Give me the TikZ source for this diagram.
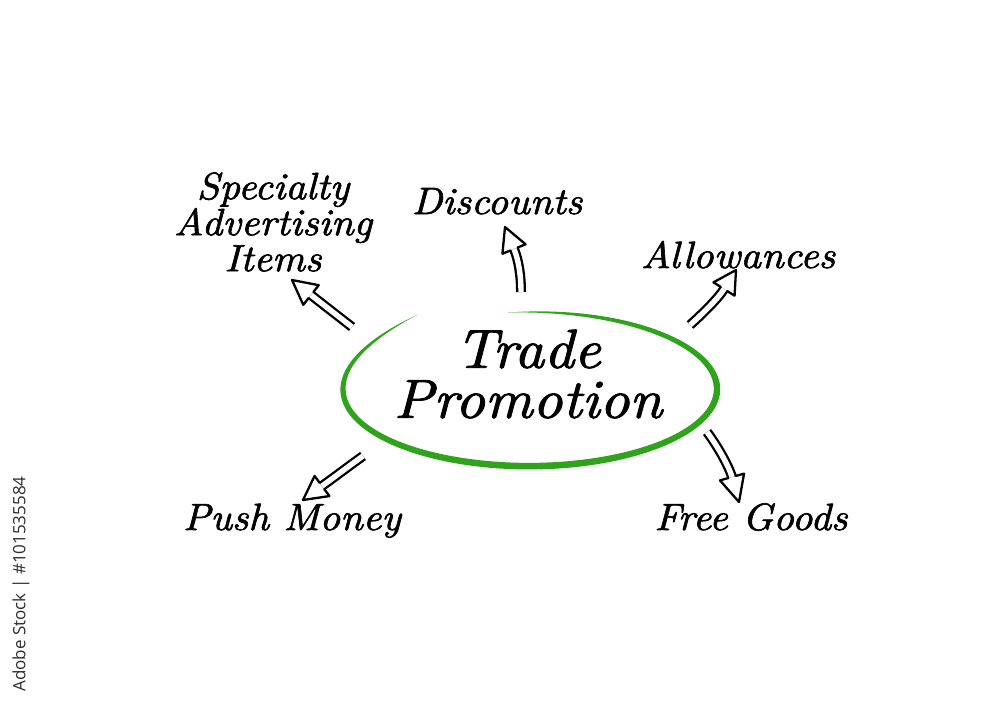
\documentclass[tikz,border=0pt]{standalone}
\usepackage{fontspec}
\newfontfamily\stockfont{Open Sans}
\newfontfamily\hand{lmroman10-italic}[Extension=.otf, FakeBold=1.6, FakeStretch=1.06]
\usetikzlibrary{calc}
\definecolor{ringgreen}{RGB}{48,163,28}
\definecolor{stockgray}{RGB}{45,45,45}
\tikzset{
  lbl/.style={font=\hand\fontsize{38}{36}\selectfont, inner sep=0pt, align=center, text=black},
  titletext/.style={font=\hand\fontsize{55}{50}\selectfont, inner sep=0pt, align=center, text=black},
  shaft/.style={draw=black, double=white, double distance=5.4pt, line width=2.3pt},
  arrowhead/.style={draw=black, line width=2.3pt, line join=round, line cap=round},
  ring/.style={fill=ringgreen, draw=none},
  declare function={uu(\t)=(\t-263)/330; vv(\t)=2*uu(\t)-1;
    thk(\t)=3.3*(1-vv(\t)*vv(\t)*vv(\t)*vv(\t));
    drift(\t)=16*uu(\t)*uu(\t)*uu(\t)*uu(\t)*uu(\t)*uu(\t)*uu(\t)*uu(\t);},
}
% tail, control 1, control 2, head base, tip
\newcommand\hollowarrow[5]{%
  \draw[shaft] (#1) .. controls (#2) and (#3) .. (#4);
  \draw[arrowhead] ($(#4)!3.85pt!90:(#5)$) -- ($(#4)!12.5pt!90:(#5)$) -- (#5)
     -- ($(#4)!12.5pt!-90:(#5)$) -- ($(#4)!3.85pt!-90:(#5)$);}
\begin{document}
\begin{tikzpicture}[x=1pt, y=-1pt]
\useasboundingbox (0,0) rectangle (1000,710);
\fill[white] (0,0) rectangle (1000,710);

% green hand-drawn ring
\fill[ring]
  plot[domain=263:593, samples=180]
    ({530+(187+thk(\x))*cos(\x)}, {389+(77+drift(\x)+thk(\x))*sin(\x)})
  -- plot[domain=593:263, samples=180]
    ({530+(187-thk(\x))*cos(\x)}, {389+(77+drift(\x)-thk(\x))*sin(\x)})
  -- cycle;

% texts
\node[titletext] (trade) at (528,374) {Trade\\Promotion};
\node[lbl] (specialty) at (273,222) {Specialty\\Advertising\\Items};
\node[lbl, anchor=base] (discounts) at (497,214) {Discounts};
\node[lbl, anchor=base] (allowances) at (738,268) {Allowances};
\node[lbl, anchor=base] (pushmoney) at (292,530) {Push Money};
\node[lbl, anchor=base] (freegoods) at (751,530) {Free Goods};
\node[rotate=90, font=\stockfont\fontsize{17}{20}\selectfont, text=stockgray, inner sep=0pt]
  (stock) at (21,584) {Adobe Stock | \#101535584};

% arrow coordinates
\coordinate (sa-tail) at (352,327); \coordinate (sa-c1) at (338,316);
\coordinate (sa-c2) at (325,306);   \coordinate (sa-base) at (311,295);
\coordinate (sa-tip) at (292,280);

\coordinate (di-tail) at (521,292); \coordinate (di-c1) at (521,275);
\coordinate (di-c2) at (518.5,260); \coordinate (di-base) at (514,249);
\coordinate (di-tip) at (505,227);

\coordinate (al-tail) at (690,325); \coordinate (al-c1) at (699,317);
\coordinate (al-c2) at (718,299);   \coordinate (al-base) at (724,289);
\coordinate (al-tip) at (736,270);

\coordinate (pm-tail) at (363,456); \coordinate (pm-c1) at (349,466);
\coordinate (pm-c2) at (336,476);   \coordinate (pm-base) at (322,486);
\coordinate (pm-tip) at (303,500);

\coordinate (fg-tail) at (707,432); \coordinate (fg-c1) at (716,444);
\coordinate (fg-c2) at (728,464);   \coordinate (fg-base) at (732,477);
\coordinate (fg-tip) at (739,502);

\hollowarrow{sa-tail}{sa-c1}{sa-c2}{sa-base}{sa-tip}
\hollowarrow{di-tail}{di-c1}{di-c2}{di-base}{di-tip}
\hollowarrow{al-tail}{al-c1}{al-c2}{al-base}{al-tip}
\hollowarrow{pm-tail}{pm-c1}{pm-c2}{pm-base}{pm-tip}
\hollowarrow{fg-tail}{fg-c1}{fg-c2}{fg-base}{fg-tip}
\end{tikzpicture}
\end{document}
